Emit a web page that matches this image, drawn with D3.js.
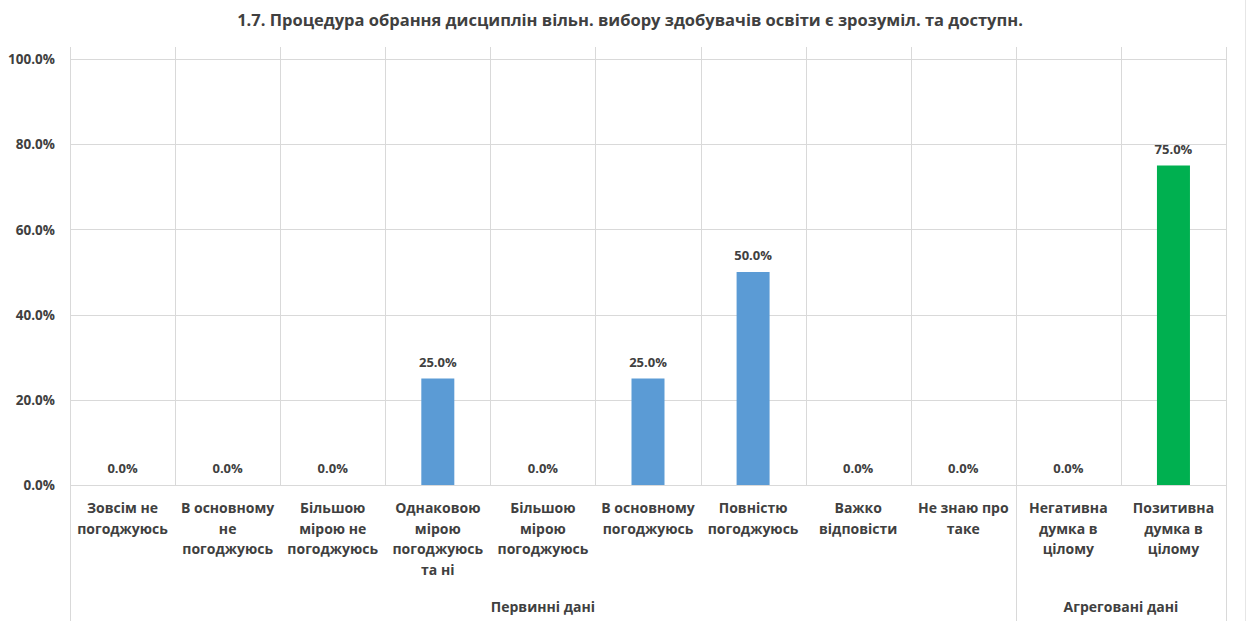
<!DOCTYPE html>
<html><head><meta charset="utf-8">
<script src="https://cdn.jsdelivr.net/npm/d3@7"></script>
<style>body{margin:0;background:#fff}svg{display:block}text{font-family:"Open Sans",sans-serif;font-weight:bold;fill:#404040}</style>
</head><body>
<svg id="c" width="1246" height="621"></svg>
<script>
const title = "1.7. Процедура обрання дисциплін вільн. вибору здобувачів освіти є зрозуміл. та доступн.";
const categories = [
  ["Зовсім не","погоджуюсь"],
  ["В основному","не","погоджуюсь"],
  ["Більшою","мірою не","погоджуюсь"],
  ["Однаковою","мірою","погоджуюсь","та ні"],
  ["Більшою","мірою","погоджуюсь"],
  ["В основному","погоджуюсь"],
  ["Повністю","погоджуюсь"],
  ["Важко","відповісти"],
  ["Не знаю про","таке"],
  ["Негативна","думка в","цілому"],
  ["Позитивна","думка в","цілому"]
];
const values = [0, 0, 0, 0.25, 0, 0.25, 0.5, 0, 0, 0, 0.75];
const barColors = ["#5B9BD5","#5B9BD5","#5B9BD5","#5B9BD5","#5B9BD5","#5B9BD5","#5B9BD5","#5B9BD5","#5B9BD5","#00B050","#00B050"];
const groups = [{name:"Первинні дані", start:0, end:8},{name:"Агреговані дані", start:9, end:10}];
const yTicks = [0, 0.2, 0.4, 0.6, 0.8, 1.0];

const svg = d3.select("#c");
const L = 70, R = 1226, T = 59, B = 485;
const x = d3.scaleBand().domain(d3.range(categories.length)).range([L, R]).padding(0);
const y = d3.scaleLinear().domain([0, 1]).range([B, T]);
const grid = "#d9d9d9";
const fmt = d3.format(".1%");

// far right border
svg.append("line").attr("x1",1245.5).attr("x2",1245.5).attr("y1",0).attr("y2",621).attr("stroke","#e6e6e6");

svg.append("text").attr("x", 630).attr("y", 26).attr("text-anchor","middle")
  .style("font-size","16.5px").text(title);

// horizontal gridlines
svg.append("g").selectAll("line").data(yTicks).join("line")
  .attr("x1", L).attr("x2", R).attr("y1", d => Math.round(y(d))+0.5).attr("y2", d => Math.round(y(d))+0.5)
  .attr("stroke", grid);

// vertical category gridlines
const bounds = d3.range(categories.length + 1).map(i => i < categories.length ? x(i) : R);
svg.append("g").selectAll("line").data(bounds).join("line")
  .attr("x1", d => Math.round(d)+0.5).attr("x2", d => Math.round(d)+0.5)
  .attr("y1", 47).attr("y2", (d,i) => (i===0 || i===9 || i===categories.length) ? 621 : B)
  .attr("stroke", grid);

// y axis labels
const yAxis = d3.axisLeft(y).tickValues(yTicks).tickFormat(fmt).tickSize(0).tickPadding(0);
const ya = svg.append("g").attr("transform", `translate(55,0)`).call(yAxis);
ya.select(".domain").remove();
ya.selectAll("text").style("font-size","13.5px").style("font-family","'Open Sans',sans-serif").attr("fill","#404040").attr("dy","0.35em");

// bars
const bw = 33;
svg.append("g").selectAll("rect").data(values).join("rect")
  .attr("x", (d,i) => x(i) + x.bandwidth()/2 - bw/2)
  .attr("y", d => y(d)).attr("width", bw).attr("height", d => B - y(d))
  .attr("fill", (d,i) => barColors[i]);

// data labels
svg.append("g").selectAll("text").data(values).join("text")
  .attr("x", (d,i) => x(i) + x.bandwidth()/2)
  .attr("y", d => y(d) - 12).attr("text-anchor","middle")
  .style("font-size","13px").text(d => fmt(d));

// category labels
const cl = svg.append("g");
categories.forEach((lines, i) => {
  const t = cl.append("text").attr("text-anchor","middle").style("font-size","14px");
  lines.forEach((ln, j) => t.append("tspan").attr("x", x(i) + x.bandwidth()/2).attr("y", 513 + j*20.7).text(ln));
});

// group labels
svg.append("g").selectAll("text").data(groups).join("text")
  .attr("x", g => (x(g.start) + (g.end+1 < categories.length ? x(g.end+1) : R))/2)
  .attr("y", 612).attr("text-anchor","middle").style("font-size","14px").text(g => g.name);
</script>
</body></html>
